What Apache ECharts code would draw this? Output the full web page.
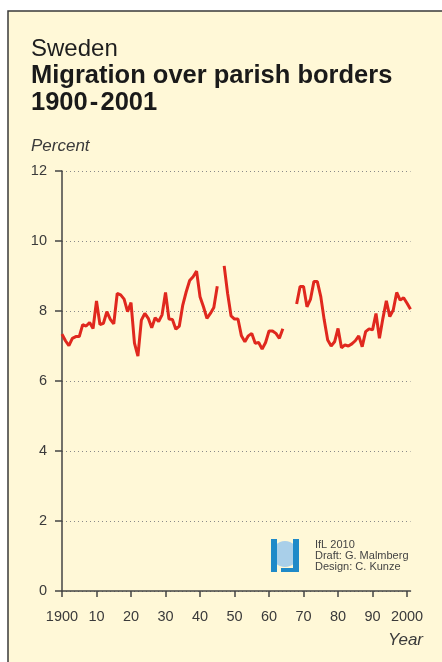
<!DOCTYPE html>
<html><head><meta charset="utf-8">
<script src="https://cdn.jsdelivr.net/npm/echarts@6/dist/echarts.min.js"></script>
<style>html,body{margin:0;padding:0;background:#fff}#c{width:442px;height:662px}</style>
</head><body><div id="c"></div>
<script>
const years = [];
for (let y = 1900; y <= 2001; y++) years.push(y);
const values1900s = [7.34,7.15,7.01,7.22,7.27,7.27,7.61,7.57,7.67,7.50];
const values1910s = [8.29,7.61,7.65,7.98,7.76,7.63,8.50,8.46,8.34,7.98];
const values1920s = [8.24,7.08,6.71,7.74,7.93,7.79,7.52,7.81,7.70,7.89];
const values1930s = [8.53,7.77,7.76,7.48,7.57,8.17,8.55,8.87,8.98,9.14];
const values1940s = [8.41,8.12,7.79,7.93,8.10,8.71,null,9.29,8.50,7.86];
const values1950s = [7.77,7.77,7.29,7.12,7.29,7.36,7.08,7.10,6.91,7.10];
const values1960s = [7.43,7.43,7.36,7.22,7.49,null,null,null,8.20,8.70];
const values1970s = [8.70,8.12,8.33,8.84,8.84,8.41,7.74,7.17,7.00,7.12];
const values1980s = [7.50,6.95,7.03,7.00,7.06,7.15,7.29,6.98,7.41,7.49];
const values1990s = [7.46,7.93,7.22,7.79,8.29,7.84,8.03,8.53,8.31,8.38];
const values2000s = [8.22,8.05];
const values = [].concat(values1900s,values1910s,values1920s,values1930s,values1940s,values1950s,values1960s,values1970s,values1980s,values1990s,values2000s);
const yTicks = [0,2,4,6,8,10,12];
const xTickLabels = {1900:'1900',1910:'10',1920:'20',1930:'30',1940:'40',1950:'50',1960:'60',1970:'70',1980:'80',1990:'90',2000:'2000'};

const chart = echarts.init(document.getElementById('c'), null, {renderer:'canvas'});
const font = 'Liberation Sans, Arial, Helvetica, sans-serif';
const txt = '#3a3a3a';
chart.setOption({
  backgroundColor: '#ffffff',
  animation: false,
  graphic: [
    {type:'rect', z:-10, shape:{x:8,y:11,width:460,height:680}, style:{fill:'#FFF8D7', stroke:'#3a3a3a', lineWidth:1.5}},
    {type:'text', left:31, top:37, style:{text:'Sweden', font:'normal 24px '+font, fill:'#1e1e1e'}},
    {type:'text', left:31, top:63, style:{text:'Migration over parish borders', font:'bold 25.5px '+font, fill:'#1a1a1a'}},
    {type:'text', left:31, top:90, style:{text:'1900\u200A-\u200A2001', font:'bold 25.5px '+font, fill:'#1a1a1a'}},
    {type:'text', left:31, top:138, style:{text:'Percent', font:'italic 17px '+font, fill:txt}},
    {type:'text', right:19, top:632, style:{text:'Year', font:'italic 17px '+font, fill:txt}},
    {type:'group', left:271, top:539, children:[
      {type:'circle', shape:{cx:14,cy:15,r:13}, style:{fill:'#a9cfe9'}},
      {type:'rect', shape:{x:0,y:0,width:6,height:33}, style:{fill:'#1f8ac8'}},
      {type:'rect', shape:{x:22,y:0,width:6,height:33}, style:{fill:'#1f8ac8'}},
      {type:'rect', shape:{x:10,y:29,width:18,height:4}, style:{fill:'#1f8ac8'}}
    ]},
    {type:'text', left:315, top:539, style:{text:'IfL 2010', font:'11px '+font, fill:'#444'}},
    {type:'text', left:315, top:550, style:{text:'Draft: G. Malmberg', font:'11px '+font, fill:'#444'}},
    {type:'text', left:315, top:561, style:{text:'Design: C. Kunze', font:'11px '+font, fill:'#444'}}
  ],
  grid: {left:62, top:171, width:348.5, height:420, containLabel:false},
  xAxis: {
    type:'value', min:1900, max:2001, interval:10,
    axisLine:{show:true, lineStyle:{color:'#444', width:1.5}},
    axisTick:{show:true, length:6, lineStyle:{color:'#444', width:1.5}},
    axisLabel:{margin:18, fontSize:14.5, fontFamily:font, color:txt, showMaxLabel:false,
      formatter: v => xTickLabels[v] || ''},
    splitLine:{show:false}
  },
  yAxis: {
    type:'value', min:0, max:12, interval:2,
    axisLine:{show:true, onZero:false, lineStyle:{color:'#444', width:1.5}},
    axisTick:{show:true, inside:false, length:7, lineStyle:{color:'#444', width:1.5}},
    axisLabel:{margin:15, fontSize:14.5, fontFamily:font, color:txt,
      formatter: v => yTicks.includes(v) ? String(v) : ''},
    splitLine:{show:true, lineStyle:{color:'#8a8a8a', type:[1,3], width:1}}
  },
  series: [{
    type:'line', data: years.map((y,i)=>[y, values[i]]),
    showSymbol:false, connectNulls:false,
    lineStyle:{color:'#e0281e', width:3}, itemStyle:{color:'#e0281e'}
  }]
});
</script></body></html>
